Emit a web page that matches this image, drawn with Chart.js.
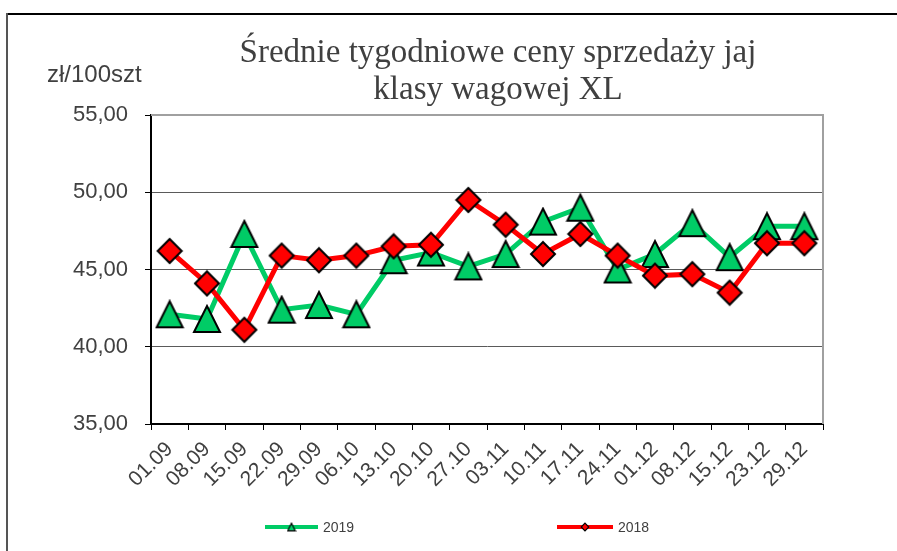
<!DOCTYPE html>
<html>
<head>
<meta charset="utf-8">
<script src="https://cdn.jsdelivr.net/npm/chart.js@4"></script>
<style>
  html, body { margin: 0; padding: 0; background: #fff; }
  #wrap { position: relative; width: 897px; height: 551px; }
  canvas { display: block; }
</style>
</head>
<body>
<div id="wrap"><canvas id="c" width="897" height="551"></canvas></div>
<script>
const categories = ['01.09','08.09','15.09','22.09','29.09','06.10','13.10','20.10','27.10','03.11','10.11','17.11','24.11','01.12','08.12','15.12','23.12','29.12'];
const values2019 = [42.1, 41.8, 47.3, 42.4, 42.7, 42.1, 45.6, 46.1, 45.2, 46.0, 48.1, 49.0, 45.0, 46.0, 48.0, 45.8, 47.8, 47.8];
const values2018 = [46.2, 44.1, 41.1, 45.9, 45.6, 45.9, 46.5, 46.6, 49.5, 47.9, 46.0, 47.3, 45.9, 44.6, 44.7, 43.5, 46.7, 46.7];
const seriesNames = ['2019', '2018'];
const yTicks = [35, 40, 45, 50, 55];
const titleLines = ['Średnie tygodniowe ceny sprzedaży jaj', 'klasy wagowej XL'];
const yUnit = 'zł/100szt';

const GREEN = '#00CC66';
const RED = '#FF0000';

function makeTriangle(size, fill, lw) {
  const c = document.createElement('canvas');
  c.width = size; c.height = size;
  const g = c.getContext('2d');
  const m = lw;
  g.beginPath();
  g.moveTo(size / 2, m);
  g.lineTo(size - m, size - m);
  g.lineTo(m, size - m);
  g.closePath();
  g.fillStyle = fill; g.fill();
  g.lineWidth = lw; g.strokeStyle = '#000'; g.lineJoin = 'miter'; g.stroke();
  return c;
}
function makeDiamond(size, fill, lw) {
  const c = document.createElement('canvas');
  c.width = size; c.height = size;
  const g = c.getContext('2d');
  const m = lw;
  g.beginPath();
  g.moveTo(size / 2, m);
  g.lineTo(size - m, size / 2);
  g.lineTo(size / 2, size - m);
  g.lineTo(m, size / 2);
  g.closePath();
  g.fillStyle = fill; g.fill();
  g.lineWidth = lw; g.strokeStyle = '#000'; g.stroke();
  return c;
}
const triBig = makeTriangle(30, GREEN, 2);
const diaBig = makeDiamond(28, RED, 2);
const triSmall = makeTriangle(10, GREEN, 1.2);
const diaSmall = makeDiamond(10, RED, 1.2);

const decor = {
  id: 'decor',
  beforeDraw(chart) {
    const ctx = chart.ctx;
    ctx.save();
    ctx.fillStyle = '#fff';
    ctx.fillRect(0, 0, chart.width, chart.height);
    ctx.fillStyle = '#000';
    ctx.fillRect(6, 13, 891, 2);
    ctx.fillStyle = '#555';
    ctx.fillRect(6, 13, 2, 538);
    ctx.restore();
  },
  afterDraw(chart) {
    const ctx = chart.ctx;
    ctx.save();
    ctx.fillStyle = '#404040';
    ctx.font = '33px "Liberation Serif"';
    ctx.textAlign = 'center';
    ctx.textBaseline = 'alphabetic';
    ctx.fillText(titleLines[0], 498, 62);
    ctx.fillText(titleLines[1], 498, 99);
    ctx.font = '24px "Liberation Sans"';
    ctx.textAlign = 'left';
    ctx.fillText(yUnit, 47, 82);
    const items = [
      { x: 265, w: 53, color: GREEN, img: triSmall, label: seriesNames[0] },
      { x: 557, w: 56, color: RED, img: diaSmall, label: seriesNames[1] }
    ];
    const ly = 527;
    ctx.font = '14px "Liberation Sans"';
    ctx.textBaseline = 'middle';
    items.forEach(it => {
      ctx.strokeStyle = it.color;
      ctx.lineWidth = 4;
      ctx.beginPath();
      ctx.moveTo(it.x, ly);
      ctx.lineTo(it.x + it.w, ly);
      ctx.stroke();
      ctx.drawImage(it.img, it.x + it.w / 2 - 5, ly - 5);
      ctx.fillStyle = '#404040';
      ctx.fillText(it.label, it.x + it.w + 5, ly + 1);
    });
    ctx.restore();
  }
};

const plotBorder = {
  id: 'plotBorder',
  beforeDatasetsDraw(chart) {
    const ctx = chart.ctx;
    const a = chart.chartArea;
    ctx.save();
    ctx.strokeStyle = '#a0a0a0';
    ctx.lineWidth = 2;
    ctx.beginPath();
    ctx.moveTo(a.left, a.top);
    ctx.lineTo(a.right, a.top);
    ctx.lineTo(a.right, a.bottom);
    ctx.stroke();
    ctx.restore();
  }
};

new Chart(document.getElementById('c'), {
  type: 'line',
  data: {
    labels: categories,
    datasets: [
      {
        label: seriesNames[0],
        data: values2019,
        borderColor: GREEN,
        backgroundColor: GREEN,
        borderWidth: 5,
        pointStyle: triBig,
        order: 2,
        tension: 0
      },
      {
        label: seriesNames[1],
        data: values2018,
        borderColor: RED,
        backgroundColor: RED,
        borderWidth: 5,
        pointStyle: diaBig,
        order: 1,
        tension: 0
      }
    ]
  },
  options: {
    responsive: false,
    devicePixelRatio: 1,
    animation: false,
    layout: { padding: { top: 115, right: 74, bottom: 0, left: 0 } },
    plugins: {
      legend: { display: false },
      title: { display: false },
      tooltip: { enabled: false }
    },
    scales: {
      x: {
        type: 'category',
        offset: true,
        grid: { offset: true, drawOnChartArea: false, drawTicks: true, tickLength: 6, tickColor: '#000', lineWidth: 1 },
        border: { color: '#000', width: 2 },
        ticks: {
          autoSkip: false, maxRotation: 45, minRotation: 45,
          font: { family: 'Liberation Sans', size: 21 }, color: '#404040', padding: 7
        },
        afterFit(scale) { scale.height = 127; }
      },
      y: {
        min: yTicks[0], max: yTicks[yTicks.length - 1],
        afterBuildTicks(scale) { scale.ticks = yTicks.map(v => ({ value: v })); },
        grid: {
          color: ctx => (ctx.tick && ctx.tick.value === 55) ? 'rgba(0,0,0,0)' : '#5a5a5a',
          lineWidth: 1, tickLength: 6, tickColor: '#000', drawTicks: true
        },
        border: { color: '#000', width: 2 },
        ticks: {
          callback: v => Number(v).toFixed(2).replace('.', ','),
          font: { family: 'Liberation Sans', size: 22 }, color: '#404040', padding: 17
        },
        afterFit(scale) { scale.width = 151; }
      }
    }
  },
  plugins: [decor, plotBorder]
});
</script>
</body>
</html>
